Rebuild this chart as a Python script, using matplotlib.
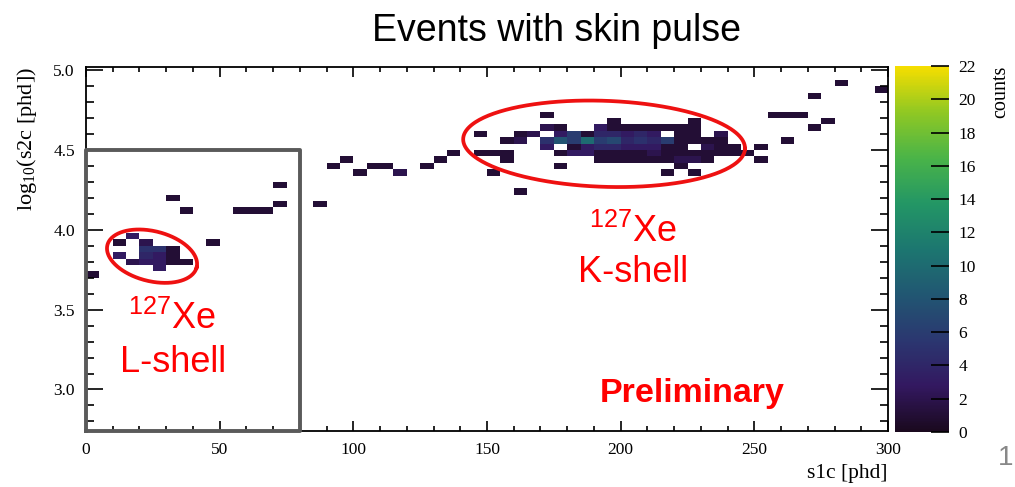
import matplotlib
matplotlib.use("Agg")
import matplotlib.pyplot as plt
import numpy as np
from matplotlib.colors import LinearSegmentedColormap

plt.rcParams['mathtext.default'] = 'regular'

# filled bins: s1c bin low edge [phd], log10(s2c) bin centre, counts
s1c_low = [0, 10, 15, 20, 20, 25, 30, 10, 20, 25, 30, 15, 20, 25, 30, 35, 25,
           45, 30, 35, 55, 60, 65, 70, 70, 85, 90, 95, 100, 105, 110, 115,
           125, 130, 135, 145, 145, 150, 155, 155, 150, 160, 155, 160, 160, 165,
           170, 170, 170, 170, 175, 175, 175, 175, 175,
           180, 180, 180, 180, 185, 185, 185, 185,
           190, 190, 190, 190, 190, 190,
           195, 195, 195, 195, 195, 195, 195,
           200, 200, 200, 200, 200, 200,
           205, 205, 205, 205, 205, 205,
           210, 210, 210, 210, 210, 210,
           215, 215, 215, 215, 215, 215,
           220, 220, 220, 220, 220, 220, 220,
           225, 225, 225, 225, 225, 225, 225,
           230, 230, 230, 230,
           235, 235, 235, 235,
           240, 240, 245, 250, 250, 260, 255, 260, 265, 270, 275, 270, 280, 295]
log_s2c = [3.72, 3.92, 3.96, 3.92, 3.88, 3.88, 3.88, 3.84, 3.84, 3.84, 3.84, 3.80, 3.80, 3.80, 3.80, 3.80, 3.76,
           3.92, 4.20, 4.12, 4.12, 4.12, 4.12, 4.16, 4.28, 4.16, 4.40, 4.44, 4.36, 4.40, 4.40, 4.36,
           4.40, 4.44, 4.48, 4.60, 4.48, 4.48, 4.48, 4.44, 4.36, 4.24, 4.56, 4.60, 4.56, 4.60,
           4.72, 4.64, 4.56, 4.52, 4.64, 4.60, 4.56, 4.48, 4.40,
           4.60, 4.56, 4.52, 4.48, 4.60, 4.56, 4.52, 4.48,
           4.64, 4.60, 4.56, 4.52, 4.48, 4.44,
           4.68, 4.64, 4.60, 4.56, 4.52, 4.48, 4.44,
           4.64, 4.60, 4.56, 4.52, 4.48, 4.44,
           4.64, 4.60, 4.56, 4.52, 4.48, 4.44,
           4.64, 4.60, 4.56, 4.52, 4.48, 4.44,
           4.64, 4.56, 4.52, 4.48, 4.44, 4.36,
           4.64, 4.60, 4.56, 4.52, 4.48, 4.44, 4.40,
           4.68, 4.60, 4.56, 4.48, 4.44, 4.36, 4.64,
           4.56, 4.52, 4.48, 4.44,
           4.60, 4.56, 4.52, 4.48,
           4.52, 4.48, 4.48, 4.52, 4.44, 4.56, 4.72, 4.72, 4.72, 4.64, 4.68, 4.84, 4.92, 4.88]
counts = [1, 1, 3, 2, 5, 5, 1, 3, 4, 3, 1, 2, 3, 3, 1, 1, 3,
          1, 1, 1, 1, 1, 1, 1, 1, 1, 1, 1, 1, 1, 1, 2,
          1, 1, 1, 1, 1, 1, 1, 1, 1, 1, 1, 1, 2, 2,
          1, 2, 5, 3, 1, 3, 8, 1, 1,
          6, 6, 1, 3, 1, 10, 3, 3,
          3, 4, 6, 4, 1, 1,
          1, 1, 4, 7, 4, 1, 1,
          1, 3, 4, 3, 1, 1,
          1, 4, 5, 3, 1, 1,
          1, 3, 4, 3, 2, 1,
          1, 6, 1, 1, 1, 1,
          1, 1, 1, 1, 1, 2, 1,
          1, 1, 1, 1, 2, 1, 1,
          1, 2, 1, 1,
          2, 1, 1, 1,
          1, 1, 1, 1, 1, 1, 1, 1, 1, 1, 1, 1, 1, 1]

xedges = np.arange(0, 301, 5)
yedges = 2.74 + 0.04 * np.arange(58)
H, _, _ = np.histogram2d(np.array(s1c_low) + 2.5, log_s2c, bins=[xedges, yedges], weights=counts)
H = np.ma.masked_equal(H.T, 0)

# ROOT kViridis palette
root_viridis = np.array([[26, 9, 30], [51, 24, 96], [43, 55, 112], [33, 87, 114], [28, 118, 112],
                         [35, 150, 101], [74, 180, 72], [144, 200, 35], [246, 222, 0]]) / 255.
cmap = LinearSegmentedColormap.from_list('root_viridis', root_viridis)

fig = plt.figure(figsize=(10.15, 4.87), dpi=100)
ax = fig.add_axes([86 / 1015, 1 - 431 / 487, 802 / 1015, 364 / 487])
mesh = ax.pcolormesh(xedges, yedges, H, cmap=cmap, vmin=0, vmax=22)
ax.set_xlim(0, 300)
ax.set_ylim(2.74, 5.02)

serif = 'Liberation Serif'
sans = 'Liberation Sans'
ax.set_xticks(np.arange(0, 301, 50))
ax.set_xticks(np.arange(0, 301, 10), minor=True)
ax.set_yticks([3.0, 3.5, 4.0, 4.5, 5.0])
ax.set_yticks(np.arange(2.8, 5.01, 0.1), minor=True)
ax.set_yticklabels(['3.0', '3.5', '4.0', '4.5', '5.0'])
ax.tick_params(axis='both', which='both', direction='in', top=True, right=True, width=1.2, labelsize=12.5)
ax.tick_params(axis='x', which='major', length=7, pad=8)
ax.tick_params(axis='x', which='minor', length=3.5)
ax.tick_params(axis='y', which='major', length=12, pad=8)
ax.tick_params(axis='y', which='minor', length=6)
for lab in ax.get_xticklabels() + ax.get_yticklabels():
    lab.set_family(serif)
for sp in ax.spines.values():
    sp.set_linewidth(1.3)

# selection box for the L-shell region
ax.plot([0, 80, 80, 0, 0], [2.74, 2.74, 4.5, 4.5, 2.74], color='#5a5a5a', lw=2.8,
        clip_on=False, zorder=5)

# red ellipses drawn with equal pixel geometry
sx = 802 / 300.
sy = 364 / (5.02 - 2.74)


def ring(cx, cy, a_px, b_px, ang):
    t = np.linspace(0, 2 * np.pi, 300)
    th = np.radians(ang)
    u = a_px * np.cos(t)
    v = b_px * np.sin(t)
    px = u * np.cos(th) - v * np.sin(th)
    py = u * np.sin(th) + v * np.cos(th)
    ax.plot(cx + px / sx, cy + py / sy, color='#ee1111', lw=2.7, zorder=6)


ring(24.7, 3.835, 46, 25, -14)
ring(193.8, 4.539, 141, 43, -2)

red = '#ff0000'
ax.text(204.6, 3.985, r'$^{127}$Xe', color=red, fontsize=26, family=sans, ha='center', va='center')
ax.text(204.6, 3.73, 'K-shell', color=red, fontsize=26, family=sans, ha='center', va='center')
ax.text(32.2, 3.44, r'$^{127}$Xe', color=red, fontsize=26, family=sans, ha='center', va='center')
ax.text(32.4, 3.17, 'L-shell', color=red, fontsize=26, family=sans, ha='center', va='center')
ax.text(226.6, 2.975, 'Preliminary', color=red, fontsize=24.5, family=sans, weight='bold',
        ha='center', va='center')

ax.set_xlabel('s1c [phd]', family=serif, fontsize=15.5, loc='right', labelpad=4)
ax.set_ylabel(r'log$_{10}$(s2c [phd])', family=serif, fontsize=16, loc='top', labelpad=10)

cax = fig.add_axes([895 / 1015, 1 - 432 / 487, 54 / 1015, 366 / 487])
cb = fig.colorbar(mesh, cax=cax, ticks=np.arange(0, 23, 2))
cb.outline.set_visible(False)
cax.tick_params(direction='in', length=13, width=1.2, labelsize=12.5, pad=7)
for lab in cax.get_yticklabels():
    lab.set_family(serif)
fig.text(1001 / 1015, 1 - 66 / 487, 'counts', rotation=90, family=serif, fontsize=14.5,
         ha='center', va='top')

fig.text(557 / 1015, 1 - 31 / 487, 'Events with skin pulse', family=sans, fontsize=27,
         ha='center', va='center')
fig.text(1006 / 1015, 1 - 458 / 487, '1', family=sans, fontsize=20, color='#888888',
         ha='center', va='center')

fig.savefig('out.png', dpi=100)
